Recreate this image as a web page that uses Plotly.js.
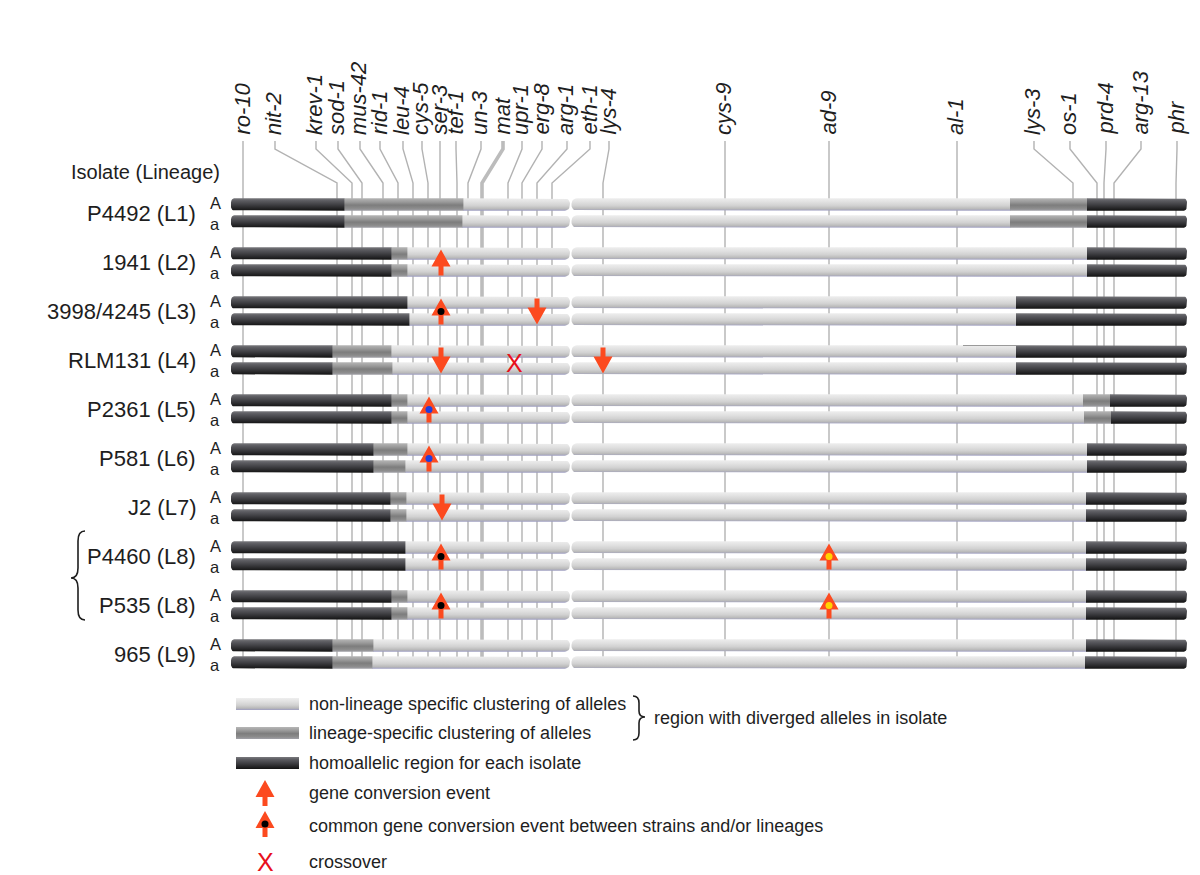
<!DOCTYPE html>
<html><head><meta charset="utf-8">
<script src="https://cdn.plot.ly/plotly-3.0.1.min.js"></script>
<style>html,body{margin:0;padding:0;background:#fff}#chart{width:1200px;height:875px}</style>
</head><body><div id="chart"></div>
<script>
// ---------------- DATA ----------------
const geneNames = ['ro-10','nit-2','krev-1','sod-1','mus-42','rid-1','leu-4','cys-5','ser-3','tef-1','un-3','mat','upr-1','erg-8','arg-1','eth-1','lys-4','cys-9','ad-9','al-1','lys-3','os-1','prd-4','arg-13','phr'];
const genePos  = [243,337,352,362,383,398,413,428,440,457,468,482,508,522,537,552,603,725,829,957,1073,1097,1104,1114,1176];
const labelPos = [243,275,316,338,360,380,403,422,440,456,481,503,522,542,567,590,609,725,829,957,1034,1070,1106,1141,1177];

const isolates = ['P4492 (L1)','1941 (L2)','3998/4245 (L3)','RLM131 (L4)','P2361 (L5)','P581 (L6)','J2 (L7)','P4460 (L8)','P535 (L8)','965 (L9)'];
const alleles = ['A','a'];
// H = homoallelic, S = lineage-specific clustering, N = non-lineage specific clustering ; [class, end position]
const regionsA = [
  [['H',344],['S',463],['N',1010],['S',1087],['H',1187]],
  [['H',391],['S',407],['N',1087],['H',1187]],
  [['H',407],['N',1016],['H',1187]],
  [['H',332],['S',391],['N',1016],['H',1187]],
  [['H',391],['S',407],['N',1083],['S',1110],['H',1187]],
  [['H',373],['S',407],['N',1087],['H',1187]],
  [['H',390],['S',406],['N',1086],['H',1187]],
  [['H',405],['N',1086],['H',1187]],
  [['H',391],['S',407],['N',1086],['H',1187]],
  [['H',332],['S',373],['N',1086],['H',1187]]
];
const regionsa = [
  [['H',344],['S',462],['N',1010],['S',1087],['H',1187]],
  [['H',391],['S',407],['N',1087],['H',1187]],
  [['H',409],['N',1016],['H',1187]],
  [['H',332],['S',392],['N',1016],['H',1187]],
  [['H',391],['S',407],['N',1084],['S',1111],['H',1187]],
  [['H',373],['S',405],['N',1087],['H',1187]],
  [['H',390],['S',406],['N',1086],['H',1187]],
  [['H',405],['N',1086],['H',1187]],
  [['H',391],['S',407],['N',1086],['H',1187]],
  [['H',332],['S',372],['N',1085],['H',1187]]
];
const chromStart = 231, chromEnd = 1187, cenLeft = 570, cenRight = 571.5;

// events: row index, gene position, direction, dot colour
const evRow = [1,2,2,3,3,4,5,6,7,7,8,8];
const evPos = [441,441,537,441,603,429,429,442,441,829,441,829];
const evDir = ['up','up','down','down','down','up','up','down','up','up','up','up'];
const evDot = ['','black','','','','blue','blue','','black','yellow','black','yellow'];
const xoRow = [3];
const xoPos = [514];

const legendLabels = ['non-lineage specific clustering of alleles','lineage-specific clustering of alleles','homoallelic region for each isolate','gene conversion event','common gene conversion event between strains and/or lineages','crossover'];

// ---------------- STYLE / LAYOUT HELPERS ----------------
const ROW0 = 204.5, ROWSTEP = 49, ALLELESTEP = 17, HALF = 6.3;
const SCALES = {
  H: [[0,'#79797d'],[0.2,'#5c5c61'],[0.5,'#414145'],[0.8,'#252527'],[1,'#121212']],
  S: [[0,'#b6b6b6'],[0.3,'#9a9a9a'],[0.55,'#7d7d7d'],[0.8,'#8b8b8b'],[1,'#a0a0a6']],
  N: [[0,'#eeeeee'],[0.3,'#e1e1e1'],[0.6,'#d1d1d1'],[0.85,'#b8b8b8'],[1,'#9c9cc2']]
};
const ORANGE = '#fc4a1f';
const DOTC = {black:'#000000', blue:'#1f3ee0', yellow:'#ffd400'};
const FONT = 'Liberation Sans, Arial, sans-serif';

function polyRect(x0, x1, yc, h, rL, rR) {
  const xs=[], ys=[];
  const top = yc - h, bot = yc + h, N = 6;
  const push = (x,y) => { xs.push(x); ys.push(y); };
  if (rL > 0) for (let k=0;k<=N;k++){const a=Math.PI+k/N*Math.PI/2; push(x0+rL+rL*Math.cos(a), top+rL+rL*Math.sin(a));} else push(x0, top);
  if (rR > 0) for (let k=0;k<=N;k++){const a=1.5*Math.PI+k/N*Math.PI/2; push(x1-rR+rR*Math.cos(a), top+rR+rR*Math.sin(a));} else push(x1, top);
  if (rR > 0) for (let k=0;k<=N;k++){const a=k/N*Math.PI/2; push(x1-rR+rR*Math.cos(a), bot-rR+rR*Math.sin(a));} else push(x1, bot);
  if (rL > 0) for (let k=0;k<=N;k++){const a=Math.PI/2+k/N*Math.PI/2; push(x0+rL+rL*Math.cos(a), bot-rL+rL*Math.sin(a));} else push(x0, bot);
  push(xs[0], ys[0]);
  return [xs, ys];
}
function gradTrace(xs, ys, cls, top, bot) {
  return {type:'scatter', mode:'lines', x:xs, y:ys, fill:'toself', line:{width:0, color:'rgba(0,0,0,0)'},
    fillcolor: SCALES[cls][2][1],
    fillgradient:{type:'vertical', start:top, stop:bot, colorscale:SCALES[cls]}, hoverinfo:'skip'};
}
function arrowPoly(x, yA, dir) {
  const hw = 9.5, sw = 2.5;
  if (dir === 'up') return [[x, x+hw, x+sw, x+sw, x-sw, x-sw, x-hw, x],[yA-4, yA+13, yA+13, yA+22, yA+22, yA+13, yA+13, yA-4]];
  return [[x-sw, x+sw, x+sw, x+hw, x, x-hw, x-sw, x-sw],[yA-4, yA-4, yA+5, yA+5, yA+22, yA+5, yA+5, yA-4]];
}

const traces = [];
const annotations = [];
const shapes = [];

// gene leader lines and labels
const LINE_BOTTOM = 657;
const lx = [], ly = [], mx = [], my = [];
geneNames.forEach((g, i) => {
  const tx = g === 'mat' ? mx : lx, ty = g === 'mat' ? my : ly;
  tx.push(labelPos[i], labelPos[i], genePos[i], genePos[i], null);
  ty.push(141, 149, 183, LINE_BOTTOM, null);
  annotations.push({x: labelPos[i] - 1.5, y: 137, xref:'x', yref:'y', text: g, showarrow:false, textangle:-90,
    xanchor:'center', yanchor:'bottom', font:{family:FONT, size:22, color:'#1e1e1e', style:'italic'}});
});
traces.push({type:'scatter', mode:'lines', x:lx, y:ly, line:{color:'#b2b2b2', width:1.4}, hoverinfo:'skip'});
traces.push({type:'scatter', mode:'lines', x:mx, y:my, line:{color:'#bcbcbc', width:3.6}, hoverinfo:'skip'});

// chromosome bars
isolates.forEach((iso, r) => {
  const yA = ROW0 + r*ROWSTEP;
  [regionsA[r], regionsa[r]].forEach((regs, ai) => {
    const yc = yA + ai*ALLELESTEP;
    const top = yc - HALF, bot = yc + HALF;
    const groups = {H:[[],[]], S:[[],[]], N:[[],[]]};
    let start = chromStart;
    regs.forEach(([cls, end]) => {
      const pieces = [];
      if (start < cenLeft && end > cenRight) { pieces.push([start, cenLeft]); pieces.push([cenRight, end]); }
      else pieces.push([start, end]);
      pieces.forEach(([p0, p1]) => {
        const rL = p0 === chromStart ? 4 : (p0 === cenRight ? 5.5 : 0);
        const rR = p1 === chromEnd ? 4 : (p1 === cenLeft ? 5.5 : 0);
        const [xs, ys] = polyRect(p0, p1 + (rR ? 0 : 0.4), yc, HALF, rL, rR);
        const g = groups[cls];
        if (g[0].length) { g[0].push(null); g[1].push(null); }
        g[0].push(...xs); g[1].push(...ys);
      });
      start = end;
    });
    ['N','S','H'].forEach(cls => {
      if (groups[cls][0].length) traces.push(gradTrace(groups[cls][0], groups[cls][1], cls, top, bot));
    });
  });
  annotations.push({x:198, y:yA + 8.5, xref:'x', yref:'y', text: iso, showarrow:false, xanchor:'right', yanchor:'middle',
    font:{family:FONT, size:22, color:'#1e1e1e'}});
  alleles.forEach((al, ai) => annotations.push({x:215, y:yA + (ai ? 9.3 : 8.7), xref:'x', yref:'y', text: al, showarrow:false,
    xanchor:'center', yanchor: ai ? 'top' : 'bottom', borderpad:0, font:{family:FONT, size:16.5, color:'#1e1e1e'}}));
});

// thin artefact line on RLM131 A
traces.push({type:'scatter', mode:'lines', x:[963, 1016], y:[ROW0+3*ROWSTEP-6, ROW0+3*ROWSTEP-6], line:{color:'#9a9a9a', width:1}, hoverinfo:'skip'});

// events
const ax = [], ay = [];
const dots = {black:[[],[]], blue:[[],[]], yellow:[[],[]]};
function addArrow(x, yA, dir, dot) {
  const [px, py] = arrowPoly(x, yA, dir);
  if (ax.length) { ax.push(null); ay.push(null); }
  ax.push(...px); ay.push(...py);
  if (dot) { dots[dot][0].push(x); dots[dot][1].push(yA + 9); }
}
evRow.forEach((r, i) => addArrow(evPos[i], ROW0 + r*ROWSTEP, evDir[i], evDot[i]));
xoRow.forEach((r, i) => annotations.push({x:xoPos[i], y:ROW0 + r*ROWSTEP + 11, xref:'x', yref:'y', text:'X', showarrow:false,
  xanchor:'center', yanchor:'middle', font:{family:FONT, size:25, color:'#e8101c'}}));

// ---------- legend ----------
const LEG_X0 = 236, LEG_X1 = 299, LEG_TX = 307;
const legY = [704, 733, 763, 793, 826, 862];
['N','S','H'].forEach((cls, i) => {
  const [xs, ys] = polyRect(LEG_X0, LEG_X1, legY[i], 6, 0, 0);
  traces.push(gradTrace(xs, ys, cls, legY[i]-6, legY[i]+6));
});
addArrow(265, 784, 'up', '');
addArrow(265, 815, 'up', 'black');
annotations.push({x:265, y:legY[5], xref:'x', yref:'y', text:'X', showarrow:false, xanchor:'center', yanchor:'middle',
  font:{family:FONT, size:25, color:'#e8101c'}});
legendLabels.forEach((t, i) => annotations.push({x:LEG_TX, y:legY[i], xref:'x', yref:'y', text:t, showarrow:false,
  xanchor:'left', yanchor:'middle', font:{family:FONT, size:18, color:'#1e1e1e'}}));
annotations.push({x:652, y:718, xref:'x', yref:'y', text:'region with diverged alleles in isolate', showarrow:false,
  xanchor:'left', yanchor:'middle', font:{family:FONT, size:18, color:'#1e1e1e'}});
annotations.push({x:222, y:172, xref:'x', yref:'y', text:'Isolate (Lineage)', showarrow:false,
  xanchor:'right', yanchor:'middle', font:{family:FONT, size:20, color:'#1e1e1e'}});

traces.push({type:'scatter', mode:'lines', x:ax, y:ay, fill:'toself', fillcolor:ORANGE, line:{width:0, color:ORANGE}, hoverinfo:'skip'});
Object.keys(dots).forEach(k => {
  if (dots[k][0].length) traces.push({type:'scatter', mode:'markers', x:dots[k][0], y:dots[k][1],
    marker:{size:7, color:DOTC[k], line:{width:0}}, hoverinfo:'skip'});
});

// braces
shapes.push({type:'path', xref:'x', yref:'y', line:{color:'#1e1e1e', width:1.6},
  path:'M 85 531 Q 78 531 78 541 L 78 568 Q 78 578 71 578 Q 78 578 78 588 L 78 610 Q 78 620 85 620'});
shapes.push({type:'path', xref:'x', yref:'y', line:{color:'#1e1e1e', width:1.6},
  path:'M 633 696 Q 639 696 639 703 L 639 711 Q 639 717 645 717 Q 639 717 639 723 L 639 733 Q 639 740 633 740'});

const layout = {
  width:1200, height:875, margin:{l:0, r:0, t:0, b:0}, paper_bgcolor:'#ffffff', plot_bgcolor:'#ffffff', showlegend:false,
  xaxis:{range:[0,1200], visible:false, fixedrange:true},
  yaxis:{range:[875,0], visible:false, fixedrange:true},
  annotations, shapes
};
Plotly.newPlot('chart', traces, layout, {displayModeBar:false, staticPlot:true});
</script></body></html>
